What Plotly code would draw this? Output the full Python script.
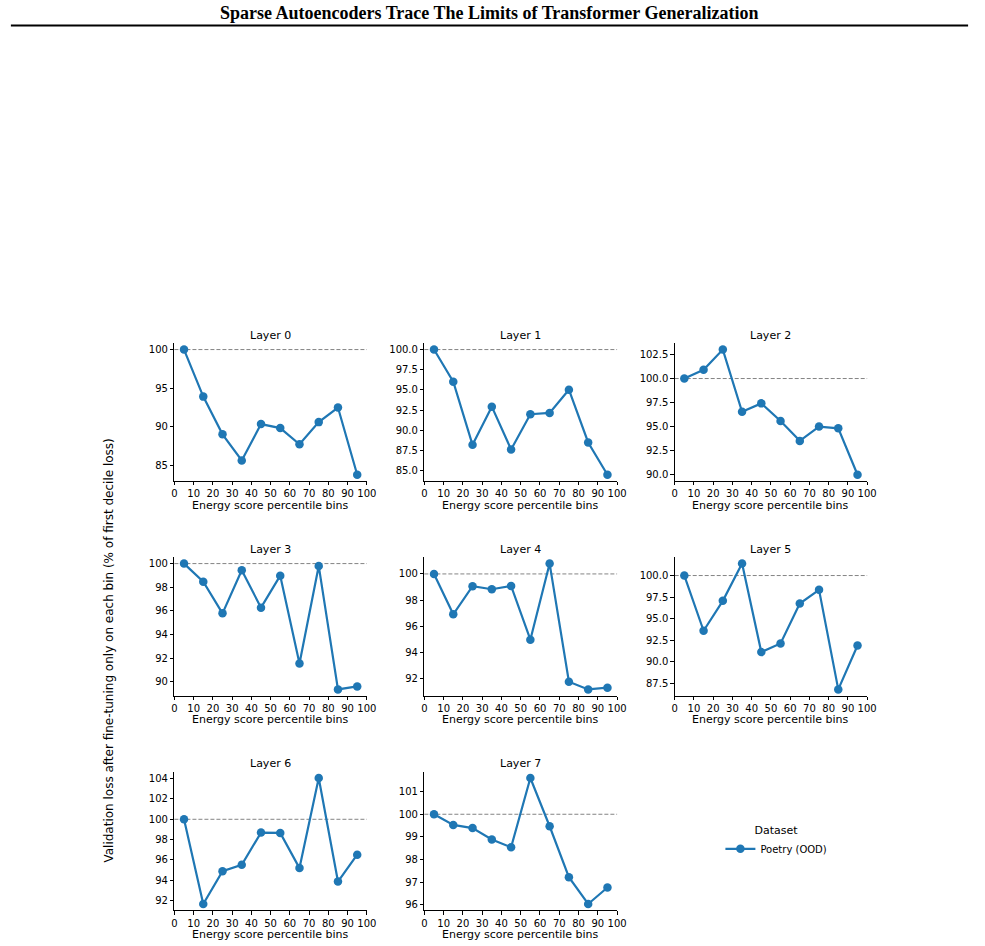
import plotly.graph_objects as go

W, H = 985, 946

bins = [5, 15, 25, 35, 45, 55, 65, 75, 85, 95]
layer_names = ["Layer 0", "Layer 1", "Layer 2", "Layer 3", "Layer 4", "Layer 5", "Layer 6", "Layer 7"]
layer0 = [100.0, 93.91, 89.03, 85.64, 90.36, 89.84, 87.74, 90.61, 92.50, 83.80]
layer1 = [100.0, 96.01, 88.20, 92.93, 87.63, 91.99, 92.15, 95.03, 88.50, 84.50]
layer2 = [100.0, 100.91, 103.02, 96.54, 97.41, 95.57, 93.50, 94.99, 94.81, 89.97]
layer3 = [100.0, 98.47, 95.79, 99.44, 96.27, 98.98, 91.55, 99.80, 89.35, 89.60]
layer4 = [100.0, 96.92, 99.06, 98.83, 99.08, 94.98, 100.79, 91.77, 91.18, 91.31]
layer5 = [100.0, 93.58, 97.06, 101.39, 91.10, 92.11, 96.75, 98.34, 86.76, 91.87]
layer6 = [100.0, 91.67, 94.90, 95.53, 98.69, 98.66, 95.20, 104.06, 93.88, 96.52]
layer7 = [100.0, 99.53, 99.39, 98.89, 98.54, 101.60, 99.47, 97.22, 96.04, 96.77]
layers = [layer0, layer1, layer2, layer3, layer4, layer5, layer6, layer7]
y_dticks = [5, 2.5, 2.5, 2, 2, 2.5, 2, 1]
y_formats = ["d", ".1f", ".1f", "d", "d", ".1f", "d", "d"]
x_ticks = [0, 10, 20, 30, 40, 50, 60, 70, 80, 90, 100]
baseline = 100
series_name = "Poetry (OOD)"
legend_title = "Dataset"
title_text = "Sparse Autoencoders Trace The Limits of Transformer Generalization"
x_label = "Energy score percentile bins"
y_label = "Validation loss after fine-tuning only on each bin (% of first decile loss)"

COLOR = "#1f77b4"
FONT = "DejaVu Sans"

col_px = [(173.7, 368.7), (427.0, 622.3), (680.7, 875.7)]
row_px = [(343.3, 481.0), (557.3, 695.7), (771.7, 910.3)]


def fx(p):
    return p / W


def fy(p):
    return 1 - p / H


fig = go.Figure()
layout = {}
annotations = []
shapes = []

for i, (name, vals) in enumerate(zip(layer_names, layers)):
    r, c = divmod(i, 3)
    idx = "" if i == 0 else str(i + 1)
    xa, ya = "x" + idx, "y" + idx
    x0, x1 = col_px[c]
    y0, y1 = row_px[r]
    lo, hi = min(vals + [baseline]), max(vals + [baseline])
    pad = 0.05 * (hi - lo)
    fig.add_trace(go.Scatter(
        x=bins, y=vals, mode="lines+markers", name=series_name,
        legendgroup="ds", showlegend=(i == 0),
        line=dict(color=COLOR, width=2.2),
        marker=dict(color=COLOR, size=8.5),
        xaxis=xa, yaxis=ya,
    ))
    common = dict(showline=True, linecolor="black", linewidth=0.9, ticks="outside",
                  ticklen=3.5, tickwidth=0.9, tickcolor="black", showgrid=False,
                  zeroline=False, tickfont=dict(family=FONT, size=10, color="black"))
    layout["xaxis" + idx] = dict(domain=[fx(x0), fx(x1)], anchor=ya, range=[0, 100],
                                 tickvals=x_ticks, **common)
    layout["yaxis" + idx] = dict(domain=[fy(y1), fy(y0)], anchor=xa,
                                 range=[lo - pad, hi + pad], tick0=0,
                                 dtick=y_dticks[i], tickformat=y_formats[i], **common)
    shapes.append(dict(type="line", xref=xa + " domain", yref=ya, x0=0, x1=1,
                       y0=baseline, y1=baseline,
                       line=dict(color="rgba(110,110,110,0.85)", width=1, dash="4px,2px"),
                       layer="below"))
    annotations.append(dict(text=name, x=fx((x0 + x1) / 2), y=fy(y0 - 8), xref="paper",
                            yref="paper", showarrow=False, xanchor="center", yanchor="middle",
                            font=dict(family=FONT, size=11, color="black")))
    annotations.append(dict(text=x_label, x=fx((x0 + x1) / 2), y=fy(y1 + 24), xref="paper",
                            yref="paper", showarrow=False, xanchor="center", yanchor="middle",
                            font=dict(family=FONT, size=11, color="black")))

annotations.append(dict(text=y_label, x=fx(107), y=fy(651), xref="paper", yref="paper",
                        showarrow=False, textangle=-90, xanchor="center", yanchor="middle",
                        font=dict(family=FONT, size=12, color="black")))
annotations.append(dict(text="<b>" + title_text + "</b>", x=0.5, y=fy(13), xref="paper",
                        yref="paper", showarrow=False, xanchor="center", yanchor="middle",
                        font=dict(family="Liberation Serif", size=18, color="black")))
shapes.append(dict(type="line", xref="paper", yref="paper", x0=fx(8), x1=fx(978),
                   y0=fy(25.5), y1=fy(25.5), line=dict(color="black", width=2)))

fig.update_layout(
    width=W, height=H, margin=dict(l=0, r=0, t=0, b=0),
    paper_bgcolor="white", plot_bgcolor="white",
    annotations=annotations, shapes=shapes,
    showlegend=True,
    legend=dict(x=fx(727), y=fy(820), xanchor="left", yanchor="top",
                bgcolor="rgba(0,0,0,0)", itemwidth=30,
                title=dict(text=legend_title, side="top center",
                           font=dict(family=FONT, size=11, color="black")),
                font=dict(family=FONT, size=10, color="black")),
    **layout,
)

fig.write_html("out.html")
